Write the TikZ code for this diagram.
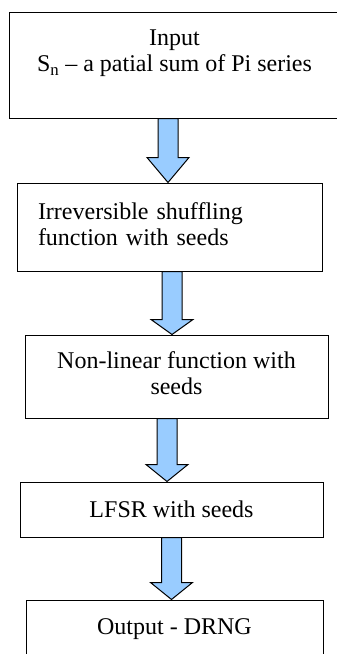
\documentclass[tikz,border=0pt]{standalone}
\usepackage{fontspec}
\setmainfont{Liberation Serif}
\usepackage{tikz}
\usetikzlibrary{calc}
\definecolor{arrowblue}{HTML}{99CCFF}

% block arrow: top node, bottom node, centre x, head length
\newcommand{\flowarrow}[4]{%
  \path[arrowbody] let \p1=(#1.south), \p2=(#2.north) in
    ({#3-10pt},\y1) -- ({#3+10pt},\y1) -- ({#3+10pt},{\y2+#4}) -- ({#3+21pt},{\y2+#4})
    -- (#3,\y2) -- ({#3-21pt},{\y2+#4}) -- ({#3-10pt},{\y2+#4}) -- cycle;}

\begin{document}
\begin{tikzpicture}[
  font=\fontsize{24}{26.5}\selectfont,
  box/.style={draw=black,line width=1pt,rectangle,inner sep=0pt,align=center},
  arrowbody/.style={draw=black,line width=1pt,fill=arrowblue}
]
\clip (0,0) rectangle (337pt,-654pt);
\node[box,minimum width=331pt,minimum height=106pt,text depth=29pt] (input) at (174.5pt,-65pt)
  {Input\\S\textsubscript{n} -- a patial sum of Pi series};
\node[box,align=left,text width=263pt,inner xsep=21pt,minimum height=88pt,text depth=32pt] (shuffle) at (169.5pt,-227pt)
  {Irreversible shuffling\\function with seeds};
\node[box,minimum width=303pt,minimum height=83pt,text depth=7pt] (nonlin) at (176.5pt,-376.5pt)
  {Non-linear function with\\seeds};
\node[box,minimum width=303pt,minimum height=55pt] (lfsr) at (171.5pt,-509.5pt) {LFSR with seeds};
\node[box,minimum width=297pt,minimum height=59pt] (output) at (174.5pt,-629.5pt) {Output - DRNG};
\flowarrow{input}{shuffle}{168pt}{25pt}
\flowarrow{shuffle}{nonlin}{172pt}{15pt}
\flowarrow{nonlin}{lfsr}{167pt}{17pt}
\flowarrow{lfsr}{output}{171.5pt}{17pt}
\end{tikzpicture}
\end{document}
